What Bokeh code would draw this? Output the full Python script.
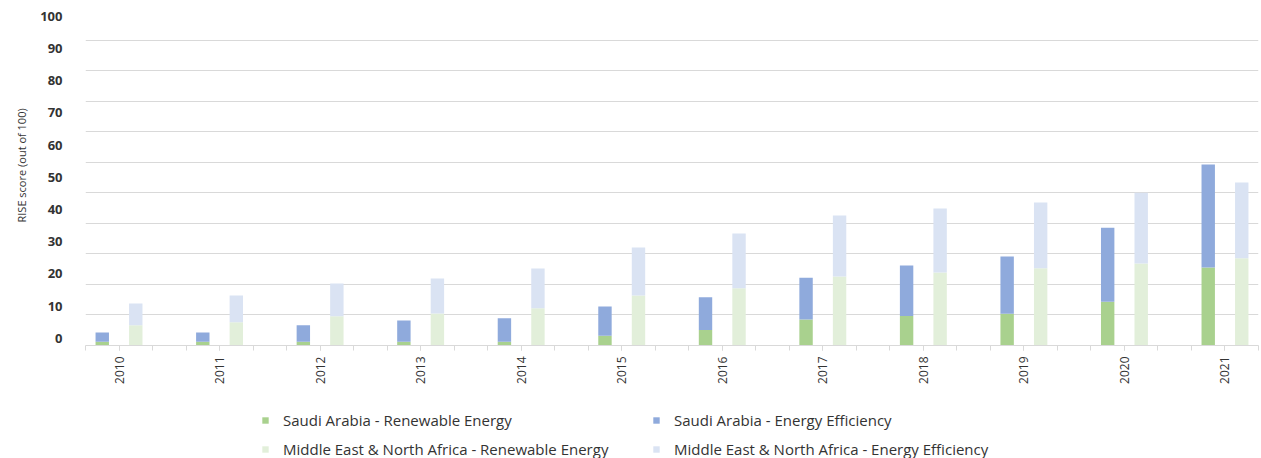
from math import pi
from bokeh.plotting import figure
from bokeh.layouts import column
from bokeh.models import (ColumnDataSource, Range1d, LinearAxis, FixedTicker, Grid,
                          Legend, LegendItem, Title)
from bokeh.embed import file_html
from bokeh.resources import INLINE

years = ["2010", "2011", "2012", "2013", "2014", "2015", "2016", "2017", "2018", "2019", "2020", "2021"]
saudi_re = [1.2, 1.2, 1.2, 1.2, 1.2, 3.2, 5.1, 8.5, 9.7, 10.4, 14.3, 25.6]
saudi_ee = [3.1, 3.1, 5.4, 7.0, 7.7, 9.6, 10.7, 13.7, 16.5, 18.8, 24.3, 33.7]
mena_re = [6.6, 7.6, 9.6, 10.5, 12.2, 16.4, 18.8, 22.6, 23.9, 25.3, 26.9, 28.6]
mena_ee = [7.2, 8.8, 10.7, 11.5, 13.0, 15.7, 17.9, 20.0, 21.0, 21.6, 23.2, 24.8]
y_ticks = [0, 10, 20, 30, 40, 50, 60, 70, 80, 90, 100]

series_names = ["Saudi Arabia - Renewable Energy", "Saudi Arabia - Energy Efficiency",
                "Middle East & North Africa - Renewable Energy", "Middle East & North Africa - Energy Efficiency"]
colors = ["#a9d18e", "#8faadc", "#e2efda", "#dae3f3"]

FONT = "Open Sans"
TXT = "#333333"
n = len(years)
slots = 3 * n - 1  # each year: Saudi slot, MENA slot, gap slot (last gap cut)

src = ColumnDataSource(dict(
    x_sa=[3 * i + 0.5 for i in range(n)],
    x_me=[3 * i + 1.5 for i in range(n)],
    sa_re=saudi_re, sa_ee=saudi_ee, me_re=mena_re, me_ee=mena_ee,
))

W = 1260
p = figure(width=W, height=395, output_backend="svg", toolbar_location=None,
           x_range=Range1d(0, slots), y_range=Range1d(0, 109.8),
           x_axis_location=None, y_axis_location=None,
           min_border_left=85, min_border_right=2, min_border_top=10, min_border_bottom=50)
p.outline_line_color = None
p.background_fill_color = "white"
p.border_fill_color = "white"
p.center = [c for c in p.center if not isinstance(c, Grid)]

grid = Grid(dimension=1, ticker=FixedTicker(ticks=y_ticks),
            grid_line_color="#d9d9d9", grid_line_width=1)
p.add_layout(grid)

p.vbar_stack(["sa_re", "sa_ee"], x="x_sa", width=0.4, source=src,
             color=colors[0:2], line_color=None)
p.vbar_stack(["me_re", "me_ee"], x="x_me", width=0.4, source=src,
             color=colors[2:4], line_color=None)

# x axis
xticks = [3 * i + 1 for i in range(n)]
xaxis = LinearAxis(ticker=FixedTicker(ticks=xticks, minor_ticks=list(range(0, slots + 1))))
xaxis.major_label_overrides = {float(t): y for t, y in zip(xticks, years)}
xaxis.major_label_orientation = pi / 2
xaxis.axis_line_color = "#d9d9d9"
xaxis.major_tick_line_color = "#d9d9d9"
xaxis.minor_tick_line_color = "#d9d9d9"
xaxis.major_tick_in = 0
xaxis.minor_tick_in = 0
xaxis.major_tick_out = 5
xaxis.minor_tick_out = 5
xaxis.major_label_standoff = 6
xaxis.major_label_text_font = FONT
xaxis.major_label_text_font_size = "12px"
xaxis.major_label_text_color = TXT
p.add_layout(xaxis, "below")

# y axis labels (drawn slightly offset from gridlines, as in the reference)
p.extra_y_ranges = {"lab": Range1d(-2.27, 101.8)}
yaxis = LinearAxis(y_range_name="lab", ticker=FixedTicker(ticks=y_ticks))
yaxis.axis_line_color = None
yaxis.major_tick_line_color = None
yaxis.minor_tick_line_color = None
yaxis.major_tick_out = 0
yaxis.major_tick_in = 0
yaxis.major_label_standoff = 23
yaxis.major_label_text_font = FONT
yaxis.major_label_text_font_style = "bold"
yaxis.major_label_text_font_size = "13px"
yaxis.major_label_text_color = TXT
p.add_layout(yaxis, "left")

title = Title(text="RISE score (out of 100)", align="left", offset=123,
              text_font=FONT, text_font_style="normal", text_font_size="11px",
              text_color=TXT, standoff=17)
p.add_layout(title, "left")

# legend figure (frame aligned with the main figure's frame by the column layout)
lg = figure(width=W, height=63, output_backend="svg", toolbar_location=None,
            x_range=Range1d(0, 1), y_range=Range1d(0, 1),
            x_axis_location=None, y_axis_location=None,
            min_border_left=85, min_border_right=2, min_border_top=0, min_border_bottom=0)
lg.outline_line_color = None
lg.center = [c for c in lg.center if not isinstance(c, Grid)]
l_sa = lg.vbar_stack(["sa_re", "sa_ee"], x="x_sa", width=0.4, source=src,
                     color=colors[0:2], line_color=None, visible=False)
l_me = lg.vbar_stack(["me_re", "me_ee"], x="x_me", width=0.4, source=src,
                     color=colors[2:4], line_color=None, visible=False)

legend = Legend(items=[
    LegendItem(label=series_names[0], renderers=[l_sa[0]]),
    LegendItem(label=series_names[1], renderers=[l_sa[1]]),
    LegendItem(label=series_names[2], renderers=[l_me[0]]),
    LegendItem(label=series_names[3], renderers=[l_me[1]]),
], orientation="horizontal", ncols=2)
legend.location = (176, -1)
legend.glyph_width = 8
legend.glyph_height = 8
legend.label_standoff = 14
legend.label_width = 360
legend.label_height = 16
legend.spacing = 9
legend.padding = 0
legend.margin = 0
legend.border_line_color = None
legend.background_fill_alpha = 0
legend.label_text_font = FONT
legend.label_text_font_size = "15px"
legend.label_text_color = TXT
lg.add_layout(legend, "center")

layout = column(p, lg, spacing=0)
open("out.html", "w").write(file_html(layout, INLINE))
